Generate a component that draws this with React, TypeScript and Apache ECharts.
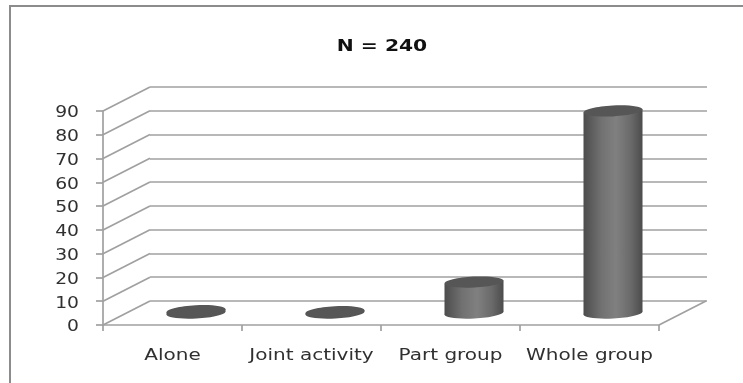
import React, { useEffect, useRef } from "react";
import * as echarts from "echarts";

const categories = ["Alone", "Joint activity", "Part group", "Whole group"];
const values = [1, 0.5, 13, 85];
const yTicks = [0, 10, 20, 30, 40, 50, 60, 70, 80, 90];
const chartTitle = "N = 240";

const FRONT = { left: 103, top: 111, width: 556, height: 214 };
const DEPTH_X = 47;
const DEPTH_Y = -24;
const LINE = "#a0a0a0";
const LINE_W = 1.7;
const TEXT = "#303030";
const FONT = "'DejaVu Sans', sans-serif";
const STRETCH = 1.25;

function renderWalls(params: any, api: any) {
  const v = api.value(0);
  const p = api.coord([0, v]);
  const x = p[0] - params.coordSys.width / categories.length / 2;
  return {
    type: "group",
    silent: true,
    children: [
      {
        type: "line",
        shape: { x1: x, y1: p[1], x2: x + DEPTH_X, y2: p[1] + DEPTH_Y },
        style: { stroke: LINE, lineWidth: LINE_W },
      },
      {
        type: "text",
        x: x - 24,
        y: p[1] + 1,
        scaleX: STRETCH,
        style: {
          text: String(v),
          textAlign: "right",
          textVerticalAlign: "middle",
          fontFamily: FONT,
          fontSize: 15,
          fill: TEXT,
        },
      },
    ],
  };
}

function renderCategoryLabel(params: any, api: any) {
  const i = api.value(0);
  const p = api.coord([i, 0]);
  return {
    type: "text",
    silent: true,
    x: p[0],
    y: p[1] + 29,
    scaleX: STRETCH,
    style: {
      text: categories[i],
      textAlign: "center",
      textVerticalAlign: "middle",
      fontFamily: FONT,
      fontSize: 16,
      fill: TEXT,
    },
  };
}

function renderFloorRight(params: any, api: any) {
  const p = api.coord([categories.length - 1, 0]);
  const x = p[0] + params.coordSys.width / categories.length / 2;
  return {
    type: "line",
    shape: { x1: x, y1: p[1], x2: x + DEPTH_X, y2: p[1] + DEPTH_Y },
    style: { stroke: LINE, lineWidth: LINE_W },
    silent: true,
  };
}

function renderCylinder(params: any, api: any) {
  const top = api.coord([api.value(0), api.value(1)]);
  const base = api.coord([api.value(0), 0]);
  const cx = top[0] + DEPTH_X / 2;
  const yTop = top[1] + DEPTH_Y / 2;
  const yBase = base[1] + DEPTH_Y / 2;
  const rx = 29.5;
  const ry = 5.5;
  const rot = (3 * Math.PI) / 180;
  const bodyFill = new echarts.graphic.LinearGradient(0, 0, 1, 0, [
    { offset: 0, color: "#4c4c4c" },
    { offset: 0.3, color: "#717171" },
    { offset: 0.55, color: "#808080" },
    { offset: 0.8, color: "#6a6a6a" },
    { offset: 1, color: "#4c4c4c" },
  ]);
  const dy = rx * Math.sin(rot);
  const capFill = "#565656";
  const flat = yBase - yTop < 4;
  return {
    type: "group",
    silent: true,
    children: [
      {
        type: "ellipse",
        shape: { cx: 0, cy: 0, rx, ry },
        x: cx,
        y: yBase,
        rotation: rot,
        style: { fill: flat ? capFill : bodyFill },
      },
      {
        type: "polygon",
        shape: {
          points: [
            [cx - rx, yTop + dy],
            [cx + rx, yTop - dy],
            [cx + rx, yBase - dy],
            [cx - rx, yBase + dy],
          ],
        },
        style: { fill: flat ? capFill : bodyFill },
      },
      {
        type: "ellipse",
        shape: { cx: 0, cy: 0, rx, ry },
        x: cx,
        y: yTop,
        rotation: rot,
        style: { fill: capFill },
      },
    ],
  };
}

export default function App() {
  const ref = useRef<HTMLDivElement>(null);
  useEffect(() => {
    const chart = echarts.init(ref.current!, undefined, { renderer: "svg" });
    chart.setOption({
      animation: false,
      backgroundColor: "#ffffff",
      grid: [
        { ...FRONT, containLabel: false },
        {
          left: FRONT.left + DEPTH_X,
          top: FRONT.top + DEPTH_Y,
          width: FRONT.width + 1,
          height: FRONT.height,
        },
      ],
      xAxis: [
        {
          type: "category",
          gridIndex: 0,
          data: categories,
          axisLine: { lineStyle: { color: LINE, width: LINE_W } },
          axisTick: { show: true, length: 6, alignWithLabel: false, lineStyle: { color: LINE, width: LINE_W } },
          axisLabel: { show: false },
        },
        { type: "category", gridIndex: 1, data: categories, show: false },
      ],
      yAxis: [
        {
          type: "value",
          gridIndex: 0,
          min: 0,
          max: 90,
          interval: 10,
          axisLine: { show: true, lineStyle: { color: LINE, width: LINE_W } },
          axisTick: { show: true, length: 7, lineStyle: { color: LINE, width: LINE_W } },
          axisLabel: { show: false },
          splitLine: { show: false },
        },
        {
          type: "value",
          gridIndex: 1,
          min: 0,
          max: 90,
          interval: 10,
          axisLine: { show: false },
          axisTick: { show: false },
          axisLabel: { show: false },
          splitLine: { show: true, lineStyle: { color: LINE, width: LINE_W } },
        },
      ],
      series: [
        {
          type: "custom",
          xAxisIndex: 0,
          yAxisIndex: 0,
          renderItem: renderWalls,
          data: yTicks.map((t) => [t]),
          encode: { y: 0 },
          clip: false,
          z: 1,
        },
        {
          type: "custom",
          xAxisIndex: 0,
          yAxisIndex: 0,
          renderItem: renderFloorRight,
          data: [[0]],
          encode: { y: 0 },
          clip: false,
          z: 1,
        },
        {
          type: "custom",
          xAxisIndex: 0,
          yAxisIndex: 0,
          renderItem: renderCategoryLabel,
          data: categories.map((_, i) => [i]),
          encode: { x: 0 },
          clip: false,
          z: 2,
        },
        {
          type: "custom",
          xAxisIndex: 0,
          yAxisIndex: 0,
          renderItem: renderCylinder,
          data: values.map((v, i) => [i, v]),
          encode: { x: 0, y: 1 },
          clip: false,
          z: 5,
        },
      ],
      graphic: [
        {
          type: "rect",
          shape: { x: 10, y: 6, width: 800, height: 500 },
          style: { fill: "none", stroke: "#8c8c8c", lineWidth: 2 },
          silent: true,
        },
        {
          type: "text",
          x: 382,
          y: 45,
          scaleX: 1.27,
          silent: true,
          style: {
            text: chartTitle,
            textAlign: "center",
            textVerticalAlign: "middle",
            fontFamily: FONT,
            fontSize: 16,
            fontWeight: "bold",
            fill: "#111111",
          },
        },
      ],
    });
    return () => chart.dispose();
  }, []);
  return (
    <div
      ref={ref}
      style={{ position: "fixed", left: 0, top: 0, width: 743, height: 383, filter: "blur(0.5px)" }}
    />
  );
}
